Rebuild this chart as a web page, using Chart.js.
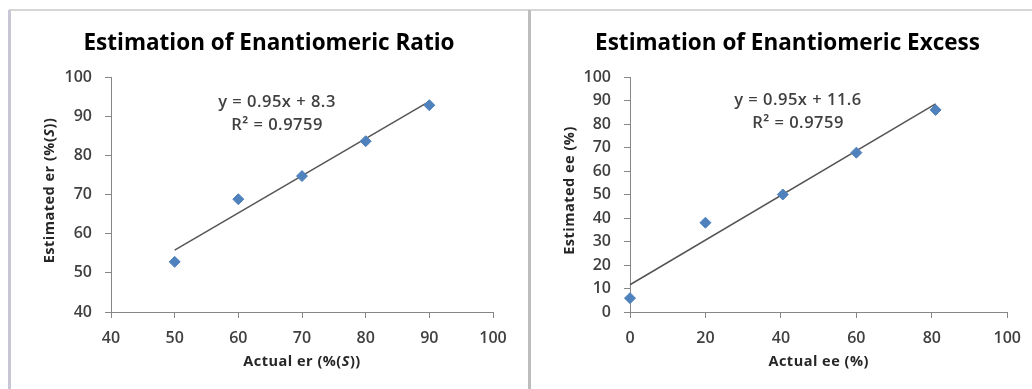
<!DOCTYPE html>
<html>
<head>
<meta charset="utf-8">
<script src="https://cdn.jsdelivr.net/npm/chart.js@4/dist/chart.umd.min.js"></script>
<style>
    html, body { margin: 0; padding: 0; background: #fff; }
    body { width: 1032px; height: 389px; position: relative; overflow: hidden; }
    .panel { position: absolute; top: 0; height: 389px; }
    #leftPanel { left: 0; width: 520px; }
    #rightPanel { left: 520px; width: 512px; }
    .rule { position: absolute; }
</style>
</head>
<body>
<div class="rule" style="left:9px; top:9px; width:1023px; height:2px; background:#d6d6d6;"></div>
<div class="rule" style="left:8px; top:10px; width:3px; height:379px; background:#c6c6d4;"></div>
<div class="rule" style="left:528px; top:10px; width:3px; height:379px; background:#bdbdbd;"></div>
<div class="panel" id="leftPanel"><canvas id="erChart" width="520" height="389"></canvas></div>
<div class="panel" id="rightPanel"><canvas id="eeChart" width="512" height="389"></canvas></div>
<script>
// Enantiomeric ratio (er)
const erActual = [50, 60, 70, 80, 90];
const erEstimated = [52.8, 68.8, 74.7, 83.6, 92.8];
const erTrendX = [50, 90];
const erTrendY = [55.8, 93.8];
const erEquation = ['y = 0.95x + 8.3', 'R² = 0.9759'];

// Enantiomeric excess (ee)
const eeActual = [0, 20, 40.5, 60, 81];
const eeEstimated = [5.9, 38, 50, 67.8, 86];
const eeTrendX = [0, 81];
const eeTrendY = [11.6, 88.6];
const eeEquation = ['y = 0.95x + 11.6', 'R² = 0.9759'];

const FONT = '"Open Sans", Lato, sans-serif';
const AXIS_COLOR = '#868686';
const TEXT_COLOR = '#404040';

function toPoints(xs, ys) {
    return xs.map((x, i) => ({ x: x, y: ys[i] }));
}

// Equation text + axis titles with mixed italic parts
const textPlugin = {
    id: 'excelText',
    afterDraw(chart, args, opts) {
        const ctx = chart.ctx;
        const area = chart.chartArea;
        ctx.save();
        ctx.fillStyle = TEXT_COLOR;
        ctx.textAlign = 'center';
        ctx.textBaseline = 'middle';
        ctx.font = '600 16.5px ' + FONT;
        ctx.letterSpacing = '0.5px';
        opts.equation.forEach((line, i) => {
            ctx.fillText(line, opts.eqX, opts.eqY + i * 23);
        });

        drawRich(ctx, opts.xTitle, (area.left + area.right) / 2, 362, 0);
        drawRich(ctx, opts.yTitle, 50, (area.top + area.bottom) / 2 - 4, -Math.PI / 2);
        ctx.restore();
    }
};

function drawRich(ctx, parts, cx, cy, rotation) {
    ctx.save();
    ctx.translate(cx, cy);
    ctx.rotate(rotation);
    ctx.fillStyle = '#262626';
    ctx.textAlign = 'left';
    ctx.textBaseline = 'middle';
    ctx.letterSpacing = '0.5px';
    let total = 0;
    parts.forEach(p => {
        ctx.font = (p[1] ? 'italic ' : '') + 'bold 14.5px ' + FONT;
        total += ctx.measureText(p[0]).width;
    });
    let x = -total / 2;
    parts.forEach(p => {
        ctx.font = (p[1] ? 'italic ' : '') + 'bold 14.5px ' + FONT;
        ctx.fillText(p[0], x, 0);
        x += ctx.measureText(p[0]).width;
    });
    ctx.restore();
}

function createScatter(canvasId, cfg) {
    const ctx = document.getElementById(canvasId).getContext('2d');
    return new Chart(ctx, {
        type: 'scatter',
        data: {
            datasets: [
                {
                    label: 'Data',
                    data: cfg.points,
                    pointStyle: 'rectRot',
                    pointRadius: 5.5,
                    pointHoverRadius: 5.5,
                    backgroundColor: '#4f81bd',
                    borderColor: '#4f81bd',
                    borderWidth: 1,
                    clip: false
                },
                {
                    label: 'Trend',
                    data: cfg.trend,
                    showLine: true,
                    pointRadius: 0,
                    borderColor: '#555555',
                    borderWidth: 1.5,
                    clip: false
                }
            ]
        },
        options: {
            responsive: false,
            animation: false,
            layout: { padding: { left: cfg.padLeft, right: cfg.padRight, top: 0, bottom: 0 } },
            plugins: {
                legend: { display: false },
                tooltip: { enabled: false },
                title: {
                    display: true,
                    text: cfg.title,
                    color: '#000',
                    font: { family: FONT, size: 22.5, weight: 'bold', lineHeight: 1.2 },
                    padding: { top: 30, bottom: 20 }
                },
                excelText: {
                    equation: cfg.equation,
                    eqX: cfg.eqX,
                    eqY: cfg.eqY,
                    xTitle: cfg.xTitle,
                    yTitle: cfg.yTitle
                }
            },
            scales: {
                x: {
                    type: 'linear',
                    min: cfg.xMin,
                    max: cfg.xMax,
                    ticks: { stepSize: cfg.xStep, color: TEXT_COLOR, font: { family: FONT, size: 16, weight: '600' }, padding: 11 },
                    grid: { drawOnChartArea: false, tickLength: 6, color: AXIS_COLOR },
                    border: { color: AXIS_COLOR },
                    afterFit: function(scale) { scale.height = 389 - 312; }
                },
                y: {
                    type: 'linear',
                    min: cfg.yMin,
                    max: 100,
                    ticks: { stepSize: 10, color: TEXT_COLOR, font: { family: FONT, size: 16, weight: '600' }, padding: 13 },
                    grid: { drawOnChartArea: false, tickLength: 6, color: AXIS_COLOR },
                    border: { color: AXIS_COLOR },
                    afterFit: function(scale) { scale.width = cfg.yWidth; }
                }
            }
        },
        plugins: [textPlugin]
    });
}

createScatter('erChart', {
    title: 'Estimation of Enantiomeric Ratio',
    points: toPoints(erActual, erEstimated),
    trend: toPoints(erTrendX, erTrendY),
    equation: erEquation,
    eqX: 277, eqY: 102,
    xTitle: [['Actual er (%(', false], ['S', true], ['))', false]],
    yTitle: [['Estimated er (%(', false], ['S', true], ['))', false]],
    xMin: 40, xMax: 100, xStep: 10, yMin: 40,
    padLeft: 45, yWidth: 66, padRight: 27
});

createScatter('eeChart', {
    title: 'Estimation of Enantiomeric Excess',
    points: toPoints(eeActual, eeEstimated),
    trend: toPoints(eeTrendX, eeTrendY),
    equation: eeEquation,
    eqX: 278, eqY: 100,
    xTitle: [['Actual ee (%)', false]],
    yTitle: [['Estimated ee (%)', false]],
    xMin: 0, xMax: 100, xStep: 20, yMin: 0,
    padLeft: 43, yWidth: 67, padRight: 20
});
</script>
</body>
</html>
